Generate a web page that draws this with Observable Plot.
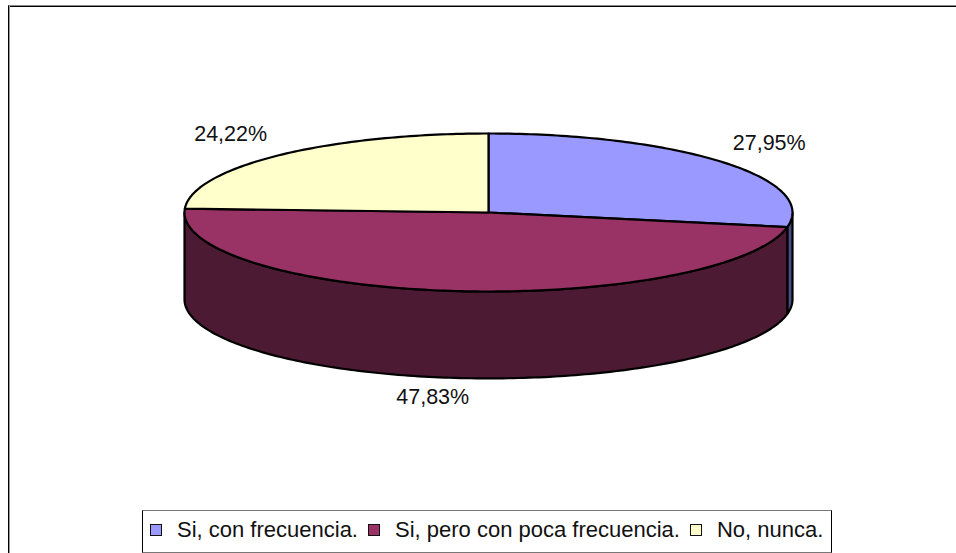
<!DOCTYPE html>
<html><head><meta charset="utf-8">
<script src="https://cdn.jsdelivr.net/npm/d3@7"></script>
<script src="https://cdn.jsdelivr.net/npm/@observablehq/plot@0.6"></script>
<style>
html,body{margin:0;padding:0;background:#fff;overflow:hidden}
#page{position:relative;width:956px;height:553px;overflow:hidden;font-family:"Liberation Sans",Arial,sans-serif;color:#111}
#frame{position:absolute;left:8px;top:5px;width:960px;height:560px;box-sizing:border-box;border-left:1px solid #000;border-top:1px solid #888;box-shadow:inset 1px 0 0 #999,inset 0 1px 0 #000}
#chart{position:absolute;left:0;top:0}
#legend{position:absolute;left:142px;top:510px;width:690px;height:43px;box-sizing:border-box;border:1px solid #000;border-top-color:#777;border-bottom-color:#777;background:#fff;display:flex;align-items:center;padding:0 0 4px 7px;font-size:22px;white-space:nowrap}
#legend i{display:block;flex:none;width:10px;height:10px;border:1.5px solid #111;margin-right:15px;box-sizing:content-box}
#legend span{display:block;margin-right:10px}
</style></head>
<body><div id="page"><div id="frame"></div><div id="chart"></div><div id="legend"></div></div>
<script>
const categories = ["Si, con frecuencia.", "Si, pero con poca frecuencia.", "No, nunca."];
const values = [27.95, 47.83, 24.22];
const labels = ["27,95%", "47,83%", "24,22%"];
const topColors = ["#9999ff", "#993366", "#ffffcc"];
const wallColors = ["#4d4d80", "#4d1a33", "#808066"];
const labelReach = [[1.2, 1.37], [1.57, 1.25], [1.23, 1.37]];

const depth = 1.1; // height of the pie, in units of the vertical radius
const rad = d => d * Math.PI / 180;
const total = d3.sum(values);
let acc = 0;
const slices = values.map((v, i) => {
  const a0 = acc / total * 360; acc += v; const a1 = acc / total * 360;
  return {i, a0, a1, mid: (a0 + a1) / 2};
});
const arc = (from, to, dropped) => {
  const n = Math.max(1, Math.ceil(to - from));
  return d3.range(n + 1).map(k => {
    const a = rad(from + (to - from) * k / n);
    return {x: Math.sin(a), y: Math.cos(a) - dropped};
  });
};
const topShape = s => {
  const pts = [{x: 0, y: 0}, ...arc(s.a0, s.a1, 0), {x: 0, y: 0}];
  return pts.map(p => ({...p, k: s.i}));
};
const wallShape = s => {
  const from = Math.max(s.a0, 90), to = Math.min(s.a1, 270);
  if (to <= from) return [];
  const up = arc(from, to, 0), low = arc(from, to, depth).reverse();
  return [...up, ...low, up[0]].map(p => ({...p, k: s.i}));
};
const shapeMark = (rows, colors) => Plot.line(rows, {
  x: "x", y: "y", z: "k",
  fill: d => colors[d.k], stroke: "#000", strokeWidth: 2.2, curve: "linear", strokeLinejoin: "round"
});
const labelRows = slices.map(s => {
  const [fx, fy] = labelReach[s.i];
  const c = Math.cos(rad(s.mid));
  return {x: Math.sin(rad(s.mid)) * fx, y: c * fy - (c < 0 ? depth : 0), t: labels[s.i]};
});

const plot = Plot.plot({
  width: 956, height: 553, margin: 0,
  x: {domain: [-1, 1], range: [184, 792], axis: null},
  y: {domain: [-1, 1], range: [291, 133], axis: null},
  color: {type: "identity"},
  style: {background: "transparent", overflow: "visible"},
  marks: [
    shapeMark(slices.flatMap(wallShape), wallColors),
    shapeMark(slices.flatMap(topShape), topColors),
    Plot.text(labelRows, {x: "x", y: "y", text: "t", fontSize: 21.5, fontFamily: "Liberation Sans", fill: "#111"})
  ]
});
document.getElementById("chart").append(plot);

const legend = document.getElementById("legend");
categories.forEach((c, i) => {
  const sw = document.createElement("i"); sw.style.background = topColors[i];
  const tx = document.createElement("span"); tx.textContent = c;
  legend.append(sw, tx);
});
</script></body></html>
